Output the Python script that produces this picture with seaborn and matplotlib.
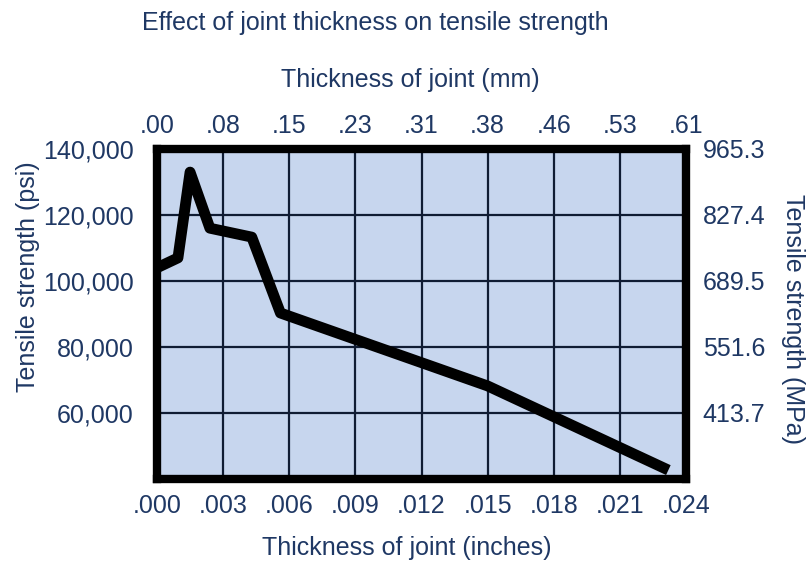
import matplotlib
matplotlib.use("Agg")
import matplotlib.pyplot as plt
import seaborn as sns
import pandas as pd

# ---- data ----
thickness_in = [0.0, 0.00095, 0.0015, 0.0024, 0.0043, 0.0056, 0.0150, 0.0232]
strength_psi = [104000, 107000, 133000, 116000, 113300, 90300, 68200, 42700]

x_ticks_in = [0.000, 0.003, 0.006, 0.009, 0.012, 0.015, 0.018, 0.021, 0.024]
x_labels_in = [".000", ".003", ".006", ".009", ".012", ".015", ".018", ".021", ".024"]
x_labels_mm = [".00", ".08", ".15", ".23", ".31", ".38", ".46", ".53", ".61"]

y_ticks_psi = [60000, 80000, 100000, 120000, 140000]
y_labels_psi = ["60,000", "80,000", "100,000", "120,000", "140,000"]
y_labels_mpa = ["413.7", "551.6", "689.5", "827.4", "965.3"]
y_grid_psi = [60000, 80000, 100000, 120000]

title = "Effect of joint thickness on tensile strength"
xlabel_bottom = "Thickness of joint (inches)"
xlabel_top = "Thickness of joint (mm)"
ylabel_left = "Tensile strength (psi)"
ylabel_right = "Tensile strength (MPa)"

# ---- style ----
sns.set_style("white")
plt.rcParams['font.family'] = ['Liberation Sans', 'DejaVu Sans']
TXT = "#1f3864"
BG = "#c7d6ee"
FS = 18

W, H = 808, 566
fig = plt.figure(figsize=(W / 100, H / 100), dpi=100)
L, R, T, B = 157, 686, 149, 479
ax = fig.add_axes([L / W, (H - B) / H, (R - L) / W, (B - T) / H])
ax.set_facecolor(BG)

df = pd.DataFrame({"thickness": thickness_in, "strength": strength_psi})
sns.lineplot(data=df, x="thickness", y="strength", ax=ax, color="black",
             linewidth=7.8, sort=False, zorder=5)
for ln in ax.lines:
    ln.set_solid_joinstyle("round")
    ln.set_solid_capstyle("butt")

ax.set_xlim(0, 0.024)
ax.set_ylim(40000, 140000)

# grid
for xv in x_ticks_in[1:-1]:
    ax.axvline(xv, color="#101c33", linewidth=1.6, zorder=2)
for yv in y_grid_psi:
    ax.axhline(yv, color="#101c33", linewidth=1.6, zorder=2)

for sp in ax.spines.values():
    sp.set_linewidth(6)
    sp.set_color("black")
    sp.set_zorder(10)

ax.set_xticks(x_ticks_in)
ax.set_xticklabels(x_labels_in)
ax.set_yticks(y_ticks_psi)
ax.set_yticklabels(y_labels_psi)
ax.tick_params(axis="x", length=0, pad=11, labelsize=FS, labelcolor=TXT)
ax.tick_params(axis="y", length=0, pad=17, labelsize=FS, labelcolor=TXT)
ax.set_xlabel("")
ax.set_ylabel("")

# top axis (mm)
axt = ax.twiny()
axt.set_xlim(ax.get_xlim())
axt.set_xticks(x_ticks_in)
axt.set_xticklabels(x_labels_mm)
axt.tick_params(axis="x", length=0, pad=8, labelsize=FS, labelcolor=TXT)
for sp in axt.spines.values():
    sp.set_visible(False)

# right axis (MPa)
axr = ax.twinx()
axr.set_ylim(ax.get_ylim())
axr.set_yticks(y_ticks_psi)
axr.set_yticklabels(y_labels_mpa)
axr.tick_params(axis="y", length=0, pad=12, labelsize=FS, labelcolor=TXT)
for sp in axr.spines.values():
    sp.set_visible(False)

def fx(px):
    return px / W

def fy(py):
    return 1 - py / H

fig.text(fx(375), fy(23), title, ha="center", va="center", fontsize=FS, color=TXT)
fig.text(fx(410), fy(80), xlabel_top, ha="center", va="center", fontsize=FS, color=TXT)
fig.text(fx(407), fy(548), xlabel_bottom, ha="center", va="center", fontsize=FS, color=TXT)
fig.text(fx(28), fy(277), ylabel_left, ha="center", va="center", rotation=90,
         fontsize=FS, color=TXT)
fig.text(fx(793), fy(319), ylabel_right, ha="center", va="center", rotation=270,
         fontsize=FS, color=TXT)

fig.savefig("out.png", dpi=100, facecolor="white")
